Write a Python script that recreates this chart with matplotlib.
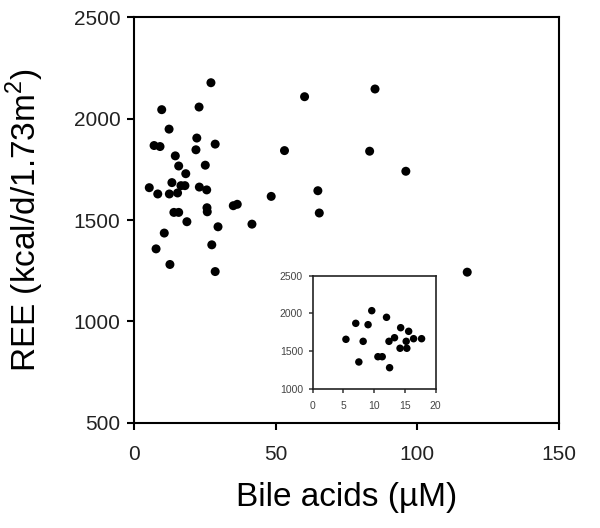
import numpy as np
import matplotlib
matplotlib.use('Agg')
from matplotlib import pyplot as plt

plt.rcParams['font.family'] = ['Liberation Sans', 'DejaVu Sans']

# main panel: bile acids (uM) vs REE
bile = [27.1, 60.2, 9.7, 22.9, 12.3, 7.0, 9.1, 22.1, 28.6, 21.8, 53.1, 14.5, 15.7,
        25.1, 18.2, 5.3, 13.3, 16.5, 17.9, 23.0, 25.6, 8.3, 12.4, 15.3, 48.4, 14.0,
        15.7, 25.7, 25.8, 35.0, 36.4, 41.6, 18.6, 29.6, 10.6, 7.7, 27.4, 12.6, 28.6,
        85.1, 83.2, 96.0, 64.9, 65.4, 117.7]
ree = [2178, 2109, 2045, 2058, 1949, 1868, 1863, 1905, 1875, 1847, 1843, 1817, 1767,
       1771, 1729, 1660, 1685, 1670, 1670, 1663, 1649, 1629, 1629, 1634, 1617, 1538,
       1538, 1561, 1541, 1571, 1578, 1480, 1492, 1467, 1436, 1358, 1378, 1281, 1246,
       2147, 1840, 1741, 1645, 1535, 1243]

# inset: low bile acid subgroup
bile_in = [5.4, 7.0, 9.6, 9.0, 8.2, 7.5, 12.0, 14.3, 15.6, 12.4, 13.3, 15.2, 16.4,
           17.7, 14.2, 15.3, 10.6, 11.3, 12.5]
ree_in = [1656, 1868, 2036, 1850, 1629, 1355, 1948, 1810, 1762, 1629, 1677, 1629, 1664,
          1664, 1537, 1537, 1425, 1425, 1279]

fig = plt.figure(figsize=(6, 5.28), dpi=100)
ax = fig.add_axes([0.2238, 0.1994, 0.7072, 0.7675])
ax.scatter(bile, ree, s=42, color='black', edgecolors='none', zorder=3)
ax.set_xlim(0, 150)
ax.set_ylim(500, 2500)
ax.set_xticks([0, 50, 100, 150])
ax.set_yticks([500, 1000, 1500, 2000, 2500])
for s in ax.spines.values():
    s.set_linewidth(1.5)
ax.tick_params(axis='x', direction='out', length=5, width=1.5, pad=11, labelsize=15, colors='black', labelcolor='#222222')
ax.tick_params(axis='y', direction='out', length=5, width=1.5, pad=5, labelsize=15, colors='black', labelcolor='#222222')
ax.set_xlabel('Bile acids (µM)', fontsize=24, labelpad=13)
ax.set_ylabel('REE (kcal/d/1.73m$^\\mathregular{2}$)', fontsize=24, labelpad=20)

ins = fig.add_axes([0.5212, 0.2638, 0.2050, 0.2140])
ins.scatter(bile_in, ree_in, s=29, color='black', edgecolors='none', zorder=3)
ins.set_xlim(0, 20)
ins.set_ylim(1000, 2500)
ins.set_xticks([0, 5, 10, 15, 20])
ins.set_yticks([1000, 1500, 2000, 2500])
for s in ins.spines.values():
    s.set_linewidth(1.2)
    s.set_color('#222222')
ins.tick_params(direction='out', length=3, width=1.2, labelsize=7.5, colors='#444444')
ins.tick_params(axis='x', pad=6)
ins.tick_params(axis='y', pad=4)

fig.savefig('out.png', dpi=100)
